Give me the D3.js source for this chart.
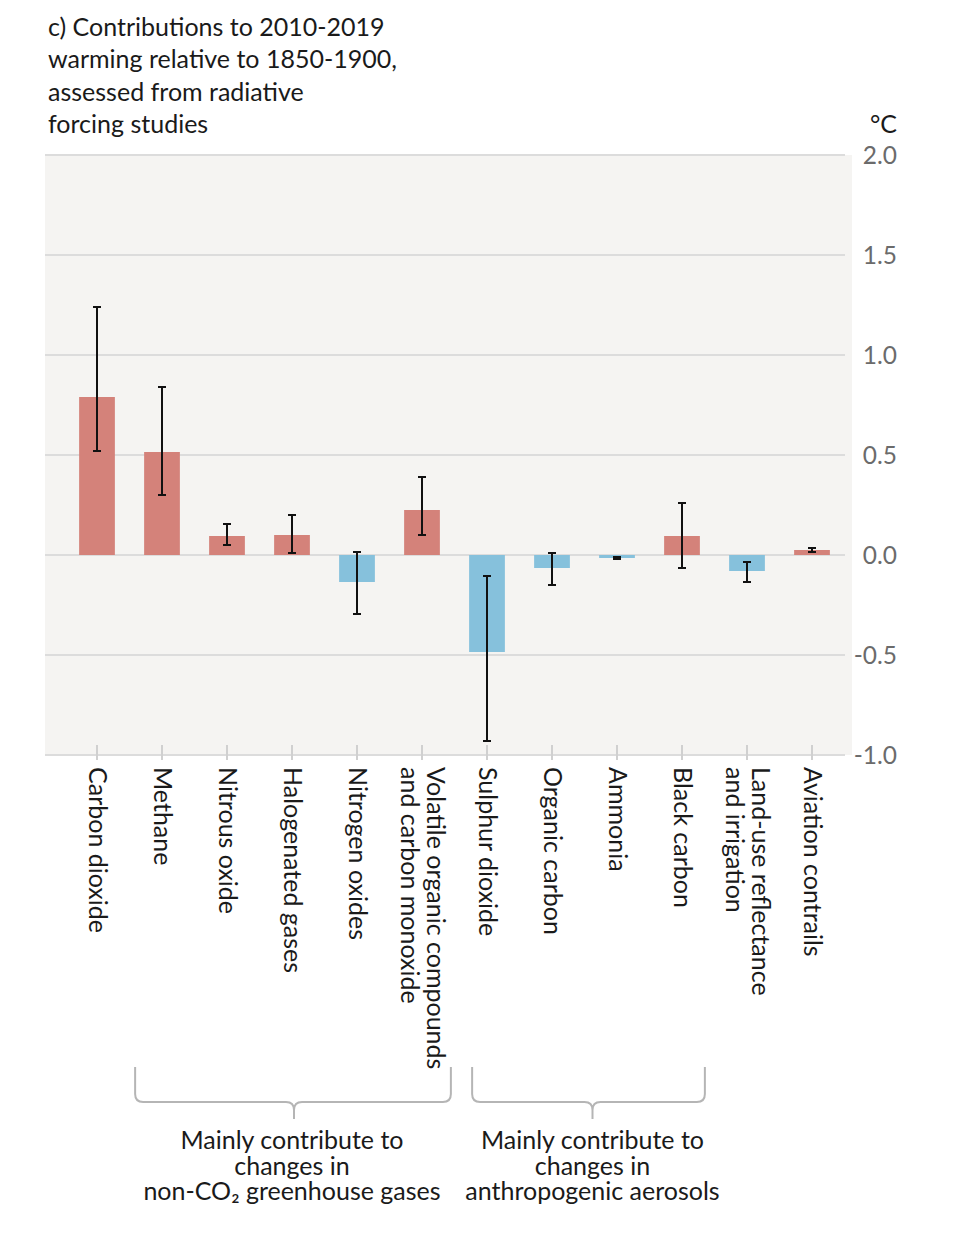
<!DOCTYPE html>
<html>
<head>
<meta charset="utf-8">
<script src="https://cdn.jsdelivr.net/npm/d3@7"></script>
<style>
  html, body { margin: 0; padding: 0; background: #ffffff; }
  svg { display: block; font-family: Lato, "Open Sans", sans-serif; }
</style>
</head>
<body>
<svg id="chart" width="960" height="1253"></svg>
<script>
// ---- data ----
const categories = [
  ["Carbon dioxide"],
  ["Methane"],
  ["Nitrous oxide"],
  ["Halogenated gases"],
  ["Nitrogen oxides"],
  ["Volatile organic compounds", "and carbon monoxide"],
  ["Sulphur dioxide"],
  ["Organic carbon"],
  ["Ammonia"],
  ["Black carbon"],
  ["Land-use reflectance", "and irrigation"],
  ["Aviation contrails"]
];
const bestEstimate = [0.79, 0.515, 0.095, 0.10, -0.135, 0.225, -0.485, -0.065, -0.015, 0.095, -0.08, 0.025];
const lowBound     = [0.52, 0.30, 0.05, 0.01, -0.295, 0.10, -0.93, -0.15, -0.02, -0.065, -0.135, 0.015];
const highBound    = [1.24, 0.84, 0.155, 0.20, 0.015, 0.39, -0.105, 0.01, -0.01, 0.26, -0.035, 0.035];
const yTicks = [2.0, 1.5, 1.0, 0.5, 0.0, -0.5, -1.0];
const titleLines = ["c) Contributions to 2010-2019", "warming relative to 1850-1900,", "assessed from radiative", "forcing studies"];
const unitLabel = "°C";
const groups = [
  { first: 1, last: 5, lines: ["Mainly contribute to", "changes in", "non-CO\u2082 greenhouse gases"] },
  { first: 6, last: 9, lines: ["Mainly contribute to", "changes in", "anthropogenic aerosols"] }
];

// ---- layout ----
const svg = d3.select("#chart");
const keys = categories.map(c => c.join(" "));
const x = d3.scaleBand().domain(keys).range([64.5, 844.5]).paddingInner(0.45).paddingOuter(0.225);
const y = d3.scaleLinear().domain([-1, 2]).range([755, 155]);
const plotLeft = 45, plotRight = 845;

const red = "#d4827a", blue = "#86c1dc";
const textColor = "#1a1a1a";

// background
svg.append("rect")
  .attr("x", plotLeft).attr("y", y(2))
  .attr("width", 852 - plotLeft).attr("height", y(-1) - y(2))
  .attr("fill", "#f5f4f2");

// gridlines
svg.append("g").selectAll("line").data(yTicks).join("line")
  .attr("x1", plotLeft).attr("x2", plotRight)
  .attr("y1", d => y(d)).attr("y2", d => y(d))
  .attr("stroke", "#dcdcdc").attr("stroke-width", 2);

// y-axis labels (right)
const yAxis = d3.axisRight(y).tickValues(yTicks).tickFormat(d3.format(".1f")).tickSize(0).tickPadding(0);
const gy = svg.append("g").attr("transform", "translate(897,0)").call(yAxis);
gy.select(".domain").remove();
gy.selectAll("text")
  .attr("text-anchor", "end")
  .attr("x", 0)
  .attr("dy", "0.36em")
  .attr("fill", "#6b6b6b")
  .style("font-size", "24.5px")
  .style("font-family", "Lato, sans-serif")
  .text(d => d3.format(".1f")(d).replace("−", "-"));

svg.append("text").attr("x", 897).attr("y", 133)
  .attr("text-anchor", "end").attr("fill", textColor)
  .style("font-size", "25px").text(unitLabel);

// x-axis ticks
const xAxis = d3.axisBottom(x).tickSize(15).tickFormat("");
const gx = svg.append("g").attr("transform", `translate(0,${y(-1) - 10})`).call(xAxis);
gx.select(".domain").remove();
gx.selectAll("line").attr("stroke", "#d0d0d0").attr("stroke-width", 2);

// bars
svg.append("g").selectAll("rect").data(keys).join("rect")
  .attr("x", d => x(d))
  .attr("width", x.bandwidth())
  .attr("y", (d, i) => y(Math.max(0, bestEstimate[i])))
  .attr("height", (d, i) => Math.abs(y(bestEstimate[i]) - y(0)))
  .attr("fill", (d, i) => bestEstimate[i] >= 0 ? red : blue);

// error bars
const eg = svg.append("g").attr("stroke", "#111").attr("stroke-width", 2);
keys.forEach((k, i) => {
  const cx = x(k) + x.bandwidth() / 2;
  eg.append("line").attr("x1", cx).attr("x2", cx).attr("y1", y(lowBound[i])).attr("y2", y(highBound[i]));
  [lowBound[i], highBound[i]].forEach(v => {
    eg.append("line").attr("x1", cx - 4).attr("x2", cx + 4).attr("y1", y(v)).attr("y2", y(v));
  });
});

// category labels (rotated)
const lh = 25.5;
keys.forEach((k, i) => {
  const lines = categories[i];
  const cx = x(k) + x.bandwidth() / 2;
  const n = lines.length;
  const t = svg.append("text")
    .attr("transform", `translate(${cx + 1},767) rotate(90)`)
    .attr("fill", textColor)
    .style("font-size", "25px");
  lines.forEach((ln, j) => {
    const off = (j - (n - 1) / 2) * lh;
    t.append("tspan").attr("x", 0).attr("y", off).attr("dy", "0.36em").text(ln);
  });
});

// title
const tt = svg.append("text").attr("fill", textColor).style("font-size", "25px");
titleLines.forEach((ln, j) => {
  tt.append("tspan").attr("x", 48).attr("y", 36 + j * 32.3).text(ln);
});

// brackets
const pads = [[-9, 11], [3, 5]];
const tipShift = [1, 4];
const textShift = [-2, 0];
groups.forEach((g, gi) => {
  const x0 = x(keys[g.first]) + pads[gi][0];
  const x1 = x(keys[g.last]) + x.bandwidth() + pads[gi][1];
  const xm = (x0 + x1) / 2 + tipShift[gi];
  const top = 1067, base = 1102, tip = 1119, r = 8;
  const p = d3.path();
  p.moveTo(x0, top);
  p.lineTo(x0, base - r);
  p.quadraticCurveTo(x0, base, x0 + r, base);
  p.lineTo(xm - r, base);
  p.quadraticCurveTo(xm, base, xm, base + r);
  p.lineTo(xm, tip);
  p.moveTo(xm, base + r);
  p.quadraticCurveTo(xm, base, xm + r, base);
  p.lineTo(x1 - r, base);
  p.quadraticCurveTo(x1, base, x1, base - r);
  p.lineTo(x1, top);
  svg.append("path").attr("d", p.toString())
    .attr("fill", "none").attr("stroke", "#b5b5b5").attr("stroke-width", 2);
  g.lines.forEach((ln, j) => {
    svg.append("text").attr("text-anchor", "middle").attr("fill", textColor)
      .style("font-size", "25px")
      .attr("x", xm + textShift[gi]).attr("y", 1149 + j * 25.5).text(ln);
  });
});
</script>
</body>
</html>
